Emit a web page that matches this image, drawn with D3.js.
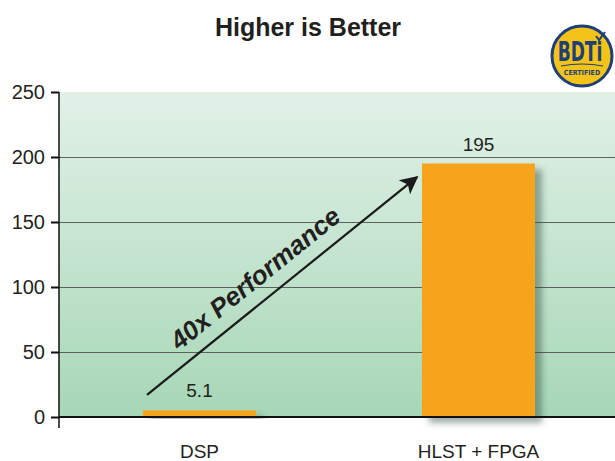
<!DOCTYPE html>
<html>
<head>
<meta charset="utf-8">
<script src="https://cdn.jsdelivr.net/npm/d3@7"></script>
<style>
  html, body { margin: 0; padding: 0; background: #fff; }
  svg { display: block; font-family: "Liberation Sans", Arial, Helvetica, sans-serif; }
</style>
</head>
<body>
<svg id="chart" width="615" height="461"></svg>
<script>
const categories = ['DSP', 'HLST + FPGA'];
const values = [5.1, 195];
const valueLabels = ['5.1', '195'];
const yTicks = [0, 50, 100, 150, 200, 250];
const yDomain = [0, 250];
// arrow annotation, in data terms: [category, value]
const arrowFrom = ['DSP', 17];
const arrowTo = ['HLST + FPGA', 184.5];
const arrowText = '40x Performance';
const title = 'Higher is Better';

const plotLeft = 59, plotRight = 615, plotTop = 92, plotBottom = 417;

const svg = d3.select('#chart');
const defs = svg.append('defs');

const grad = defs.append('linearGradient')
    .attr('id', 'bg').attr('x1', 0).attr('y1', 0).attr('x2', 0).attr('y2', 1);
grad.append('stop').attr('offset', '0%').attr('stop-color', '#e2f1e8');
grad.append('stop').attr('offset', '100%').attr('stop-color', '#a6d7b6');

defs.append('filter').attr('id', 'shadow')
    .attr('x', '-20%').attr('y', '-20%').attr('width', '150%').attr('height', '150%')
    .append('feDropShadow')
    .attr('dx', 7).attr('dy', 6).attr('stdDeviation', 3)
    .attr('flood-color', '#2f4a3c').attr('flood-opacity', 0.45);

defs.append('marker').attr('id', 'head')
    .attr('viewBox', '0 0 10 10').attr('refX', 9).attr('refY', 5)
    .attr('markerUnits', 'userSpaceOnUse')
    .attr('markerWidth', 24).attr('markerHeight', 18)
    .attr('orient', 'auto')
    .append('path').attr('d', 'M0,0 L10,5 L0,10 L2.5,5 Z').attr('fill', '#1a1a1a');

const y = d3.scaleLinear().domain(yDomain).range([plotBottom, plotTop]);
const x = d3.scaleBand().domain(categories).range([plotLeft + 2, plotRight + 2])
    .paddingInner(0.595).paddingOuter(0.294);

// plot background
svg.append('rect')
    .attr('x', plotLeft).attr('y', y(yDomain[1]))
    .attr('width', plotRight - plotLeft).attr('height', y(yDomain[0]) - y(yDomain[1]))
    .attr('fill', 'url(#bg)');

// grid lines
svg.append('g').selectAll('line')
    .data(yTicks.filter(t => t > 0 && t < yDomain[1]))
    .join('line')
    .attr('x1', plotLeft).attr('x2', plotRight)
    .attr('y1', d => Math.round(y(d)) + 0.5).attr('y2', d => Math.round(y(d)) + 0.5)
    .attr('stroke', '#5f5f5f').attr('stroke-width', 1);

// bars
svg.append('g').selectAll('rect')
    .data(values)
    .join('rect')
    .attr('x', (d, i) => x(categories[i]))
    .attr('y', d => y(d))
    .attr('width', x.bandwidth())
    .attr('height', d => y(0) - y(d))
    .attr('fill', '#f6a41b')
    .attr('filter', 'url(#shadow)');

// value labels
svg.append('g').selectAll('text')
    .data(values)
    .join('text')
    .attr('x', (d, i) => x(categories[i]) + x.bandwidth() / 2)
    .attr('y', d => y(d) - 13)
    .attr('text-anchor', 'middle')
    .attr('font-size', 19)
    .attr('fill', '#231f20')
    .text((d, i) => valueLabels[i]);

// y axis
const yAxis = d3.axisLeft(y).tickValues(yTicks).tickSize(8).tickSizeOuter(0).tickPadding(6);
const ya = svg.append('g').attr('transform', `translate(${plotLeft},0)`).call(yAxis);
ya.select('.domain').remove();
ya.selectAll('.tick line').attr('stroke', '#111').attr('stroke-width', 2);
ya.selectAll('.tick text')
    .attr('font-size', 20).attr('fill', '#231f20')
    .attr('font-family', '"Liberation Sans", Arial, sans-serif');
svg.append('line')
    .attr('x1', plotLeft).attr('x2', plotLeft)
    .attr('y1', y(yDomain[1])).attr('y2', y(0) + 11)
    .attr('stroke', '#111').attr('stroke-width', 1.5);

// baseline
svg.append('line')
    .attr('x1', plotLeft).attr('x2', plotRight)
    .attr('y1', y(0)).attr('y2', y(0))
    .attr('stroke', '#111').attr('stroke-width', 2);

// category labels
svg.append('g').selectAll('text')
    .data(categories)
    .join('text')
    .attr('x', d => x(d) + x.bandwidth() / 2)
    .attr('y', 458)
    .attr('text-anchor', 'middle')
    .attr('font-size', 19)
    .attr('fill', '#231f20')
    .text(d => d);

// arrow annotation
const ax1 = x(arrowFrom[0]) + 4, ay1 = y(arrowFrom[1]);
const ax2 = x(arrowTo[0]) - 5, ay2 = y(arrowTo[1]);
svg.append('line')
    .attr('x1', ax1).attr('y1', ay1).attr('x2', ax2).attr('y2', ay2)
    .attr('stroke', '#1a1a1a').attr('stroke-width', 2.2)
    .attr('marker-end', 'url(#head)');

const ang = Math.atan2(ay2 - ay1, ax2 - ax1);
const dirX = Math.cos(ang), dirY = Math.sin(ang);
const nX = dirY, nY = -dirX; // normal pointing up-left
const mx = (ax1 + ax2) / 2 - 16 * dirX + 14 * nX;
const my = (ay1 + ay2) / 2 - 16 * dirY + 14 * nY;
svg.append('text')
    .attr('transform', `translate(${mx},${my}) rotate(${ang * 180 / Math.PI})`)
    .attr('text-anchor', 'middle')
    .attr('font-size', 26).attr('font-weight', 'bold').attr('font-style', 'italic')
    .attr('fill', '#231f20')
    .text(arrowText);

// title
svg.append('text')
    .attr('x', 308).attr('y', 36)
    .attr('text-anchor', 'middle')
    .attr('font-size', 25).attr('font-weight', 'bold')
    .attr('fill', '#231f20')
    .text(title);

// BDTi certified badge
const navy = '#1f3f78';
const logo = svg.append('g').attr('transform', 'translate(582,56)');
logo.append('circle').attr('r', 30).attr('fill', '#f3c319')
    .attr('stroke', navy).attr('stroke-width', 3);
logo.append('text')
    .attr('transform', 'translate(-2,5) scale(1,1.4)')
    .attr('text-anchor', 'middle')
    .attr('font-size', 19).attr('font-weight', 'bold')
    .attr('font-family', '"Liberation Sans Narrow", "DejaVu Sans Condensed", sans-serif')
    .attr('fill', navy)
    .text('BDTi');
logo.append('path').attr('d', 'M14,-20 L17,-16 L23,-24')
    .attr('fill', 'none').attr('stroke', navy).attr('stroke-width', 2);
logo.append('text').attr('y', 19).attr('text-anchor', 'middle')
    .attr('font-size', 7).attr('font-weight', 'bold')
    .attr('font-family', '"DejaVu Sans Condensed", sans-serif')
    .attr('fill', navy)
    .text('CERTIFIED');
logo.append('path').attr('d', 'M-21,10 Q0,6 21,10')
    .attr('fill', 'none').attr('stroke', navy).attr('stroke-width', 1.2);
</script>
</body>
</html>
